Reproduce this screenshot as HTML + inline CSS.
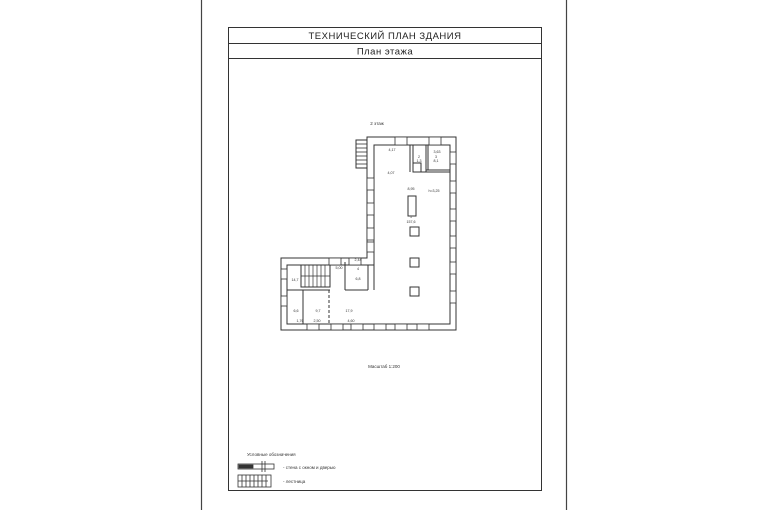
<!DOCTYPE html>
<html><head><meta charset="utf-8"><style>
html,body{margin:0;padding:0;background:#fff;}
svg{display:block;font-family:"Liberation Sans","DejaVu Sans",sans-serif;}
</style></head><body>
<svg width="770" height="510" viewBox="0 0 770 510" xmlns="http://www.w3.org/2000/svg">
<rect width="770" height="510" fill="#fff"/>
<line x1="201.5" y1="0" x2="201.5" y2="510" stroke="#444" stroke-width="1.2"/>
<line x1="566.5" y1="0" x2="566.5" y2="510" stroke="#444" stroke-width="1.2"/>
<rect x="228.5" y="27.5" width="313" height="463" fill="none" stroke="#333" stroke-width="1"/>
<line x1="228" y1="43.5" x2="542" y2="43.5" stroke="#333"/>
<line x1="228" y1="58.5" x2="542" y2="58.5" stroke="#333"/>
<text x="385" y="39" font-size="9.5" text-anchor="middle" fill="#222" letter-spacing="0.5">ТЕХНИЧЕСКИЙ ПЛАН ЗДАНИЯ</text>
<text x="385" y="54.5" font-size="9.5" text-anchor="middle" fill="#222" letter-spacing="0.5">План этажа</text>
<text x="377" y="125" font-size="4.5" text-anchor="middle" fill="#333">2 этаж</text>

<g fill="none" stroke="#333" stroke-width="1">
<!-- outer -->
<polygon points="367,137 456,137 456,330 281,330 281,258 367,258"/>
<!-- inner -->
<polygon points="374,145 450,145 450,324 287,324 287,265 374,265"/>
<!-- stairs top-left -->
<rect x="356" y="140" width="11" height="28"/>
<g stroke-width="0.8">
<line x1="356" y1="144" x2="367" y2="144"/><line x1="356" y1="148" x2="367" y2="148"/>
<line x1="356" y1="152" x2="367" y2="152"/><line x1="356" y1="156" x2="367" y2="156"/>
<line x1="356" y1="160" x2="367" y2="160"/><line x1="356" y1="164" x2="367" y2="164"/>
</g>
<!-- top partitions -->
<line x1="410" y1="145" x2="410" y2="172"/>
<line x1="413" y1="145" x2="413" y2="163"/>
<line x1="426" y1="145" x2="426" y2="172"/>
<line x1="428" y1="145" x2="428" y2="170"/>
<line x1="413" y1="172" x2="450" y2="172"/>
<line x1="426" y1="170" x2="450" y2="170"/>
<rect x="413" y="163" width="8" height="9"/>
<!-- columns -->
<rect x="408" y="196" width="8" height="20"/>
<rect x="410" y="227" width="9" height="9"/>
<rect x="410" y="258" width="9" height="9"/>
<rect x="410" y="287" width="9" height="9"/>
<!-- left wing interior -->
<line x1="374" y1="265" x2="374" y2="290"/>
<line x1="368" y1="265" x2="368" y2="290"/>
<line x1="345" y1="262" x2="345" y2="290"/>
<line x1="345" y1="290" x2="368" y2="290"/>
<rect x="301" y="265" width="29" height="22"/>
<g stroke-width="0.7">
<line x1="305" y1="265" x2="305" y2="287"/><line x1="309" y1="265" x2="309" y2="287"/>
<line x1="313" y1="265" x2="313" y2="287"/><line x1="317" y1="265" x2="317" y2="287"/>
<line x1="321" y1="265" x2="321" y2="287"/><line x1="325" y1="265" x2="325" y2="287"/>
<line x1="301" y1="276" x2="330" y2="276"/>
</g>
<line x1="287" y1="290" x2="330" y2="290"/>
<line x1="303" y1="290" x2="303" y2="324"/>
<line x1="329" y1="290" x2="329" y2="324" stroke-dasharray="3,2"/>
</g>
<!-- windows -->
<g fill="#fff" stroke="#333" stroke-width="0.8">
<rect x="450" y="152" width="6" height="12"/><rect x="450" y="181" width="6" height="12"/>
<rect x="450" y="209" width="6" height="12"/><rect x="450" y="236" width="6" height="12"/>
<rect x="450" y="262" width="6" height="12"/><rect x="450" y="291" width="6" height="12"/>
<rect x="367" y="178" width="7" height="12"/><rect x="367" y="203" width="7" height="12"/>
<rect x="367" y="228" width="7" height="12"/><rect x="367" y="242" width="7" height="10"/>
<rect x="395" y="137" width="12" height="8"/><rect x="429" y="137" width="12" height="8"/>
<rect x="307" y="324" width="12" height="6"/><rect x="331" y="324" width="12" height="6"/>
<rect x="351" y="324" width="12" height="6"/><rect x="374" y="324" width="12" height="6"/>
<rect x="395" y="324" width="12" height="6"/><rect x="417" y="324" width="12" height="6"/>
<rect x="281" y="269" width="6" height="10"/><rect x="281" y="296" width="6" height="10"/>
<rect x="329" y="258" width="12" height="7"/><rect x="349" y="258" width="12" height="7"/>
</g>
<g font-size="3.6" fill="#333" text-anchor="middle">
<text x="392" y="151">4,17</text><text x="391" y="174">4,07</text>
<text x="411" y="190">8,95</text><text x="434" y="192">h=3,25</text>
<text x="411" y="218">1</text><text x="411" y="223">157,6</text>
<text x="437" y="153">3,63</text><text x="436" y="158">3</text><text x="436" y="162">8,1</text>
<text x="419" y="158">2</text><text x="419" y="162">1,3</text>
<text x="358" y="270">4</text><text x="358" y="280">6,8</text>
<text x="295" y="281">14,7</text><text x="296" y="312">6,6</text>
<text x="318" y="312">9,7</text><text x="349" y="312">17,9</text>
<text x="300" y="322">1,76</text><text x="317" y="322">2,50</text><text x="351" y="322">4,60</text>
<text x="339" y="269">5,00</text><text x="358" y="261">2,44</text>
</g>
<text x="384" y="368" font-size="4.5" text-anchor="middle" fill="#333">Масштаб 1:200</text>

<text x="247" y="456" font-size="4.5" fill="#333">Условные обозначения</text>
<g fill="none" stroke="#333" stroke-width="0.8">
<rect x="238" y="464" width="36" height="5"/><rect x="239" y="465" width="14" height="3" fill="#333"/>
<line x1="262" y1="461" x2="262" y2="472"/><line x1="265" y1="461" x2="265" y2="472"/>
<rect x="238" y="475" width="33" height="12"/>
<line x1="238" y1="481" x2="268" y2="481"/>
<line x1="242" y1="475" x2="242" y2="487"/><line x1="246" y1="475" x2="246" y2="487"/>
<line x1="250" y1="475" x2="250" y2="487"/><line x1="254" y1="475" x2="254" y2="487"/>
<line x1="258" y1="475" x2="258" y2="487"/><line x1="262" y1="475" x2="262" y2="487"/>
<line x1="266" y1="475" x2="266" y2="487"/>
</g>
<text x="283" y="469" font-size="4.5" fill="#333">- стена с окном и дверью</text>
<text x="283" y="483" font-size="4.5" fill="#333">- лестница</text>
</svg>
</body></html>
